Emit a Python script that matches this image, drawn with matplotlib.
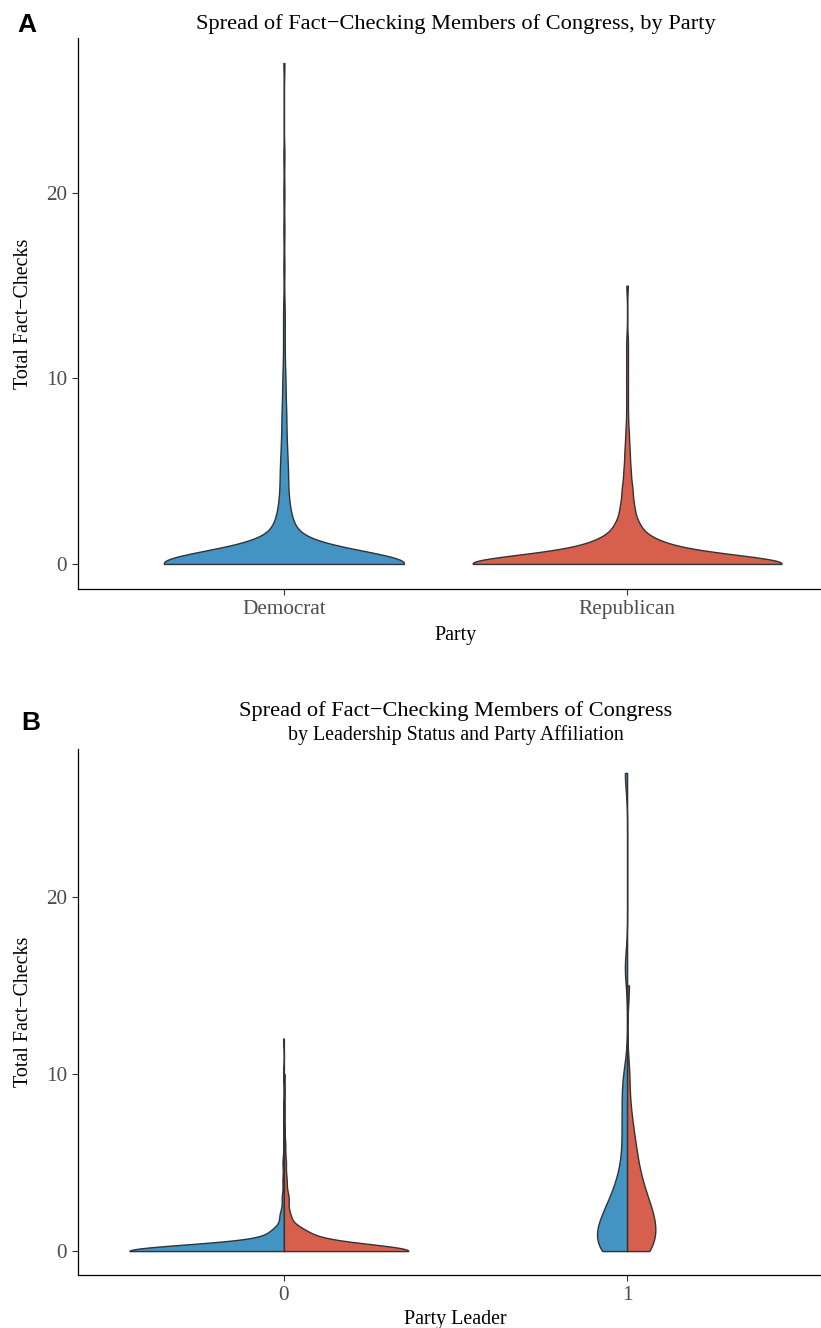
import numpy as np
import matplotlib
matplotlib.use('Agg')
import matplotlib.pyplot as plt

plt.rcParams['font.family'] = ['Liberation Serif', 'DejaVu Serif']

# total de fact-checks por membro (0 a 27) e numero de membros em cada valor
fact_checks = np.arange(0, 28)

# Painel A: por partido
party_labels = ['Democrat', 'Republican']
dem_total = [230, 25, 12, 7, 5, 5, 4, 3, 3, 2, 2, 1, 1, 1, 1, 0, 1, 0, 1, 0, 1, 0, 1, 0, 0, 0, 0, 1]
rep_total = [210, 40, 14, 8, 6, 4, 3, 2, 1, 1, 1, 1, 1, 0, 0, 1, 0, 0, 0, 0, 0, 0, 0, 0, 0, 0, 0, 0]

# Painel B: por lideranca (0 / 1) e partido
leader_labels = ['0', '1']
dem_nonleader = [230, 19, 6, 3, 2, 2, 1, 1, 1, 0, 1, 0, 1, 0, 0, 0, 0, 0, 0, 0, 0, 0, 0, 0, 0, 0, 0, 0]
rep_nonleader = [200, 34, 9, 7, 4, 3, 2, 1, 1, 1, 1, 0, 0, 0, 0, 0, 0, 0, 0, 0, 0, 0, 0, 0, 0, 0, 0, 0]
dem_leader = [7, 6, 5, 3, 2, 1, 1, 1, 1, 1, 1, 0, 0, 0, 0, 0, 1, 0, 0, 0, 0, 0, 0, 0, 0, 0, 0, 1]
rep_leader = [7, 6, 6, 4, 3, 2, 2, 1, 1, 0, 1, 0, 0, 0, 0, 1, 0, 0, 0, 0, 0, 0, 0, 0, 0, 0, 0, 0]

cores = {'Democrat': '#4393C3', 'Republican': '#D6604D'}
contorno = '#333333'


def densidade(contagens, bw):
    """Densidade kernel gaussiana, cortada no minimo e maximo dos dados."""
    c = np.asarray(contagens, dtype=float)
    vals = fact_checks[c > 0]
    y = np.linspace(vals.min(), vals.max(), 600)
    z = (y[:, None] - fact_checks[None, :]) / bw
    d = (np.exp(-0.5 * z ** 2) * c).sum(axis=1) / (c.sum() * bw * np.sqrt(2 * np.pi))
    return y, d


W, H = 821, 1328
fig = plt.figure(figsize=(W / 100, H / 100), dpi=100)


def eixo(topo, base):
    ax = fig.add_axes([78 / W, 1 - base / H, (833 - 78) / W, (base - topo) / H])
    ax.set_xlim(-0.6, 1.6)
    ax.set_ylim(-1.35, 28.35)
    ax.set_yticks([0, 10, 20])
    for s in ['top', 'right']:
        ax.spines[s].set_visible(False)
    for s in ['left', 'bottom']:
        ax.spines[s].set_color('black')
        ax.spines[s].set_linewidth(0.9)
    ax.tick_params(length=4, width=0.8, color=contorno, labelsize=15.3,
                   labelcolor='#4D4D4D', pad=4)
    return ax


def texto(x, y, s, **kw):
    fig.text(x / W, 1 - y / H, s, **kw)


# ---- Painel A ----
axA = eixo(38, 589)
curvas = [densidade(c, b) for c, b in zip([dem_total, rep_total], [0.68, 0.5])]
dmax = max(d.max() for _, d in curvas)
for i, ((y, d), partido) in enumerate(zip(curvas, party_labels)):
    meia = 0.45 * d / dmax
    axA.fill_betweenx(y, i - meia, i + meia, facecolor=cores[partido],
                      edgecolor=contorno, linewidth=1.0)
axA.set_xticks([0, 1], party_labels)

# ---- Painel B (violinos divididos) ----
axB = eixo(749, 1275)
grupos = [
    (0, dem_nonleader, 'Democrat', -1, 0.38),
    (0, rep_nonleader, 'Republican', 1, 0.42),
    (1, dem_leader, 'Democrat', -1, 1.0),
    (1, rep_leader, 'Republican', 1, 1.1),
]
curvas = [densidade(c, b) for _, c, _, _, b in grupos]
dmax = max(d.max() for _, d in curvas)
for (x, _, partido, lado, _), (y, d) in zip(grupos, curvas):
    meia = 0.45 * d / dmax
    axB.fill_betweenx(y, x, x + lado * meia, facecolor=cores[partido],
                      edgecolor=contorno, linewidth=1.0)
axB.set_xticks([0, 1], leader_labels)

# textos
minus = '\u2212'
texto(455.5, 28.5, f'Spread of Fact{minus}Checking Members of Congress, by Party',
      ha='center', va='baseline', fontsize=16.1)
texto(455.5, 716, f'Spread of Fact{minus}Checking Members of Congress',
      ha='center', va='baseline', fontsize=16.1)
texto(455.5, 740, 'by Leadership Status and Party Affiliation',
      ha='center', va='baseline', fontsize=14.3)
texto(455.5, 640, 'Party', ha='center', va='baseline', fontsize=14.4)
texto(455.5, 1324, 'Party Leader', ha='center', va='baseline', fontsize=14.4)
for yc in [314, 1012]:
    texto(24, yc, f'Total Fact{minus}Checks', ha='center', va='center',
          rotation=90, fontsize=14.4)
texto(17, 32, 'A', ha='left', va='baseline', fontsize=19, fontweight='bold',
      family='Liberation Sans')
texto(21, 730, 'B', ha='left', va='baseline', fontsize=19, fontweight='bold',
      family='Liberation Sans')

fig.savefig('out.png', dpi=100)
